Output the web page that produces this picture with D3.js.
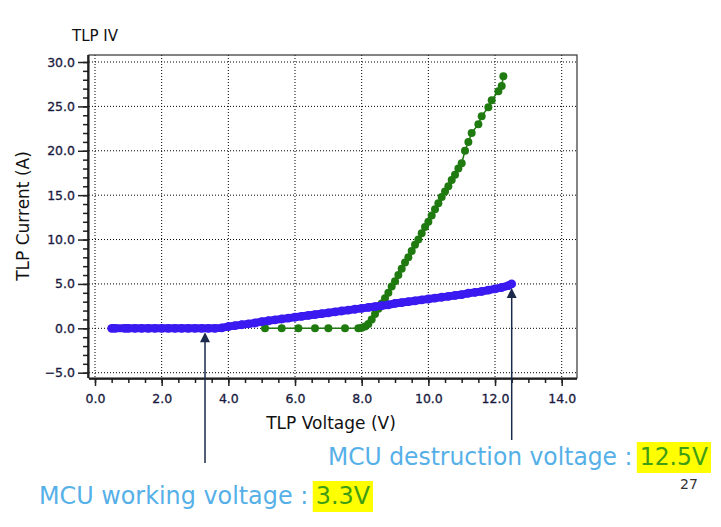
<!DOCTYPE html>
<html>
<head>
<meta charset="UTF-8" />
<script src="https://cdn.jsdelivr.net/npm/d3@7"></script>
<style>
  body { margin: 0; background: #fff; }
  text { font-family: "DejaVu Sans", sans-serif; }
</style>
</head>
<body>
<svg id="chart" width="721" height="527"></svg>
<script>
// blue curve (MCU) - voltage / current
let blueV = [0.5, 0.6, 0.9, 1.0, 1.2, 1.4, 1.6, 1.8, 2.0, 2.2, 2.4, 2.6, 2.8, 3.0, 3.2, 3.4, 3.6, 3.8,
  4.0, 4.2, 4.4, 4.6, 4.8, 5.0, 5.2, 5.4, 5.6, 5.8, 6.0, 6.2, 6.4, 6.6, 6.8, 7.0, 7.2, 7.4, 7.6, 7.8,
  8.0, 8.2, 8.4, 8.6, 8.8, 9.0, 9.2, 9.4, 9.6, 9.8, 10.0, 10.2, 10.4, 10.6, 10.8, 11.0, 11.2, 11.4,
  11.6, 11.8, 12.0, 12.2, 12.4, 12.5];
let blueI = [0, 0, 0, 0, 0, 0, 0, 0, 0, 0, 0, 0, 0, 0, 0, 0, 0, 0.05,
  0.2, 0.3, 0.4, 0.5, 0.6, 0.75, 0.85, 0.95, 1.05, 1.15, 1.25, 1.35, 1.45, 1.55, 1.65, 1.75, 1.85, 1.95, 2.05, 2.15,
  2.25, 2.35, 2.45, 2.55, 2.65, 2.8, 2.9, 3.0, 3.1, 3.2, 3.3, 3.4, 3.5, 3.6, 3.7, 3.8, 3.95, 4.05,
  4.15, 4.3, 4.45, 4.6, 4.8, 5.0];
// green curve (protection device)
let greenV = [5.1, 5.6, 6.1, 6.6, 7.0, 7.5, 7.9, 8.0, 8.1, 8.2, 8.3, 8.4, 8.5, 8.6, 8.7, 8.8, 8.9, 9.0,
  9.1, 9.2, 9.3, 9.4, 9.5, 9.6, 9.7, 9.8, 9.9, 10.0, 10.1, 10.2, 10.3, 10.4, 10.5, 10.6, 10.7, 10.8,
  10.9, 11.0, 11.1, 11.2, 11.3, 11.5, 11.6, 11.8, 11.9, 12.1, 12.2, 12.25];
let greenI = [0, 0, 0, 0, 0, 0, 0, 0.05, 0.2, 0.5, 1.0, 1.6, 2.2, 2.8, 3.4, 4.0, 4.7, 5.3,
  6.0, 6.7, 7.4, 8.0, 8.7, 9.4, 10.0, 10.7, 11.4, 12.0, 12.7, 13.4, 14.1, 14.8, 15.4, 16.0, 16.7, 17.3,
  18.0, 18.6, 20.0, 21.0, 22.0, 23.0, 23.9, 24.9, 25.7, 26.7, 27.3, 28.4];
let xTicks = [0, 2, 4, 6, 8, 10, 12, 14];
let yTicks = [-5, 0, 5, 10, 15, 20, 25, 30];

const svg = d3.select("#chart");
const x = d3.scaleLinear().domain([0, 14]).range([95, 561.7]);
const y = d3.scaleLinear().domain([-5, 30]).range([372.7, 62]);
const L = 89, T = 55, R = 577, B = 378;

// grid
svg.selectAll(".gx").data(xTicks).join("line")
  .attr("x1", d => x(d)).attr("x2", d => x(d)).attr("y1", T).attr("y2", B)
  .attr("stroke", "#000").attr("stroke-width", 1).attr("stroke-dasharray", "1,2");
svg.selectAll(".gy").data(yTicks).join("line")
  .attr("x1", L).attr("x2", R).attr("y1", d => y(d)).attr("y2", d => y(d))
  .attr("stroke", "#000").attr("stroke-width", 1).attr("stroke-dasharray", "1,2");

// frame
svg.append("rect").attr("x", L).attr("y", T).attr("width", R - L).attr("height", B - T)
  .attr("fill", "none").attr("stroke", "#333").attr("stroke-width", 1.2);

// axes
const xAxis = d3.axisBottom(x).tickValues(xTicks).tickFormat(d3.format(".1f")).tickSize(7).tickPadding(8);
const xMinor = d3.axisBottom(x).tickValues(d3.range(0, 14.01, 0.5)).tickFormat("").tickSize(4);
const yAxis = d3.axisLeft(y).tickValues(yTicks).tickFormat(d3.format(".1f")).tickSize(10).tickPadding(3);
const yMinor = d3.axisLeft(y).tickValues(d3.range(-5, 30.01, 1)).tickFormat("").tickSize(5);

[xMinor, xAxis].forEach(a => {
  svg.append("g").attr("transform", `translate(0,${B + 1})`).call(a)
    .call(g => g.select(".domain").attr("d", `M${L},0H${R}`));
});
[yMinor, yAxis].forEach(a => {
  svg.append("g").attr("transform", `translate(${L - 1},0)`).call(a)
    .call(g => g.select(".domain").attr("d", `M0,${T}V${B}`));
});
svg.selectAll(".tick line").attr("stroke", "#222").attr("stroke-width", 1.5);
svg.selectAll(".tick text").attr("fill", "#1a1a40").attr("font-size", 12.5)
  .attr("font-family", "DejaVu Sans, sans-serif").attr("stroke", "#1a1a40").attr("stroke-width", 0.3);

// series
const line = d3.line().x(d => x(d[0])).y(d => y(d[1]));
const green = greenV.map((v, i) => [v, greenI[i]]);
const blue = blueV.map((v, i) => [v, blueI[i]]);
svg.append("path").datum(green).attr("d", line).attr("fill", "none").attr("stroke", "#1f7a10").attr("stroke-width", 1.5);
svg.selectAll(".gp").data(green).join("circle")
  .attr("cx", d => x(d[0])).attr("cy", d => y(d[1])).attr("r", 4).attr("fill", "#1f7a10");
svg.append("path").datum(blue).attr("d", line).attr("fill", "none").attr("stroke", "#3a1af0").attr("stroke-width", 8);
svg.selectAll(".bp").data(blue).join("circle")
  .attr("cx", d => x(d[0])).attr("cy", d => y(d[1])).attr("r", 4.4).attr("fill", "#3a1af0");

// titles
svg.append("text").attr("x", 72).attr("y", 41).attr("font-size", 15).attr("fill", "#111").text("TLP IV");
svg.append("text").attr("transform", "translate(29,216) rotate(-90)").attr("text-anchor", "middle")
  .attr("font-size", 17).attr("fill", "#111").attr("font-family", "Liberation Sans, Arial").text("TLP Current (A)");
svg.append("text").attr("x", 331).attr("y", 429).attr("text-anchor", "middle")
  .attr("font-size", 17).attr("fill", "#111").attr("font-family", "Liberation Sans, Arial").text("TLP Voltage (V)");

// arrows
const arrows = [[3.3, 0, 463], [12.5, 5.0, 440]];
arrows.forEach(([v, i, yEnd]) => {
  const ax = x(v), ay = y(i) + 4;
  svg.append("line").attr("x1", ax).attr("x2", ax).attr("y1", yEnd).attr("y2", ay + 8)
    .attr("stroke", "#1b2a4a").attr("stroke-width", 1.5);
  svg.append("path").attr("d", `M${ax},${ay}L${ax - 5},${ay + 10}L${ax + 5},${ay + 10}Z`).attr("fill", "#1b2a4a");
});

// annotations
const layer = svg.append("g");
function note(tx, ty, len, label, value) {
  const bg = layer.append("rect");
  const t = layer.append("text").attr("x", tx).attr("y", ty).attr("font-size", 24)
    .attr("font-family", "Liberation Sans, Arial").attr("fill", "#56b0e8")
    .attr("textLength", len).attr("lengthAdjust", "spacingAndGlyphs");
  t.append("tspan").text(label);
  t.append("tspan").attr("fill", "#3f9e14").text(value);
  const start = t.node().getStartPositionOfChar(label.length).x;
  bg.attr("x", start - 3).attr("y", ty - 23).attr("width", tx + len - start + 6).attr("height", 31)
    .attr("fill", "#ffff00");
}
note(328, 465, 380, "MCU destruction voltage : ", "12.5V");
note(39, 504, 331, "MCU working voltage : ", "3.3V");
svg.append("text").attr("x", 680).attr("y", 489).attr("font-size", 14).attr("fill", "#333")
  .attr("font-family", "Liberation Sans, Arial").text("27");
</script>
</body>
</html>
